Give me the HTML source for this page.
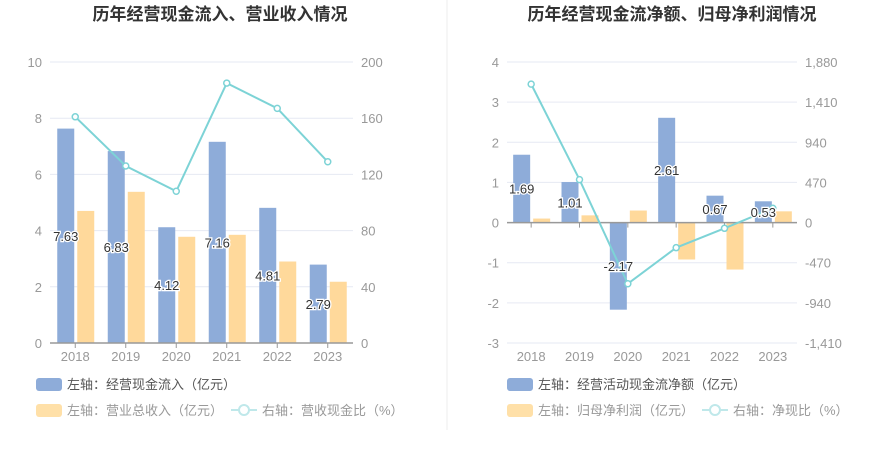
<!DOCTYPE html>
<html><head><meta charset="utf-8"><style>
body{margin:0;background:#fff;font-family:"Liberation Sans","Noto Sans CJK SC",sans-serif;}
svg text{font-family:"Liberation Sans","Noto Sans CJK SC",sans-serif;}
</style></head><body>
<svg id="c" width="893" height="458" xmlns="http://www.w3.org/2000/svg">
<line x1="447" y1="0" x2="447" y2="430" stroke="#eeeeee"/>
<text x="220" y="20" text-anchor="middle" font-size="17" font-weight="bold" fill="#333">历年经营现金流入、营业收入情况</text>
<text x="672" y="20" text-anchor="middle" font-size="17" font-weight="bold" fill="#333">历年经营现金流净额、归母净利润情况</text>
<g id="L"></g><g id="R"></g>
<g>
<rect x="36" y="378" width="26" height="13" rx="3" fill="#8eacd9"/>
<text x="67" y="389" font-size="13" fill="#555">左轴：经营现金流入（亿元）</text>
<rect x="36" y="404" width="26" height="13" rx="3" fill="#ffe0a8"/>
<text x="67" y="415" font-size="13" fill="#999">左轴：营业总收入（亿元）</text>
<line x1="231" y1="410" x2="257" y2="410" stroke="#bfe8ea" stroke-width="2"/><circle cx="244" cy="410" r="5" fill="#fff" stroke="#bfe8ea" stroke-width="2"/>
<text x="262" y="415" font-size="13" fill="#999">右轴：营收现金比（%）</text>
</g>
<g>
<rect x="507" y="378" width="26" height="13" rx="3" fill="#8eacd9"/>
<text x="538" y="389" font-size="13" fill="#555">左轴：经营活动现金流净额（亿元）</text>
<rect x="507" y="404" width="26" height="13" rx="3" fill="#ffe0a8"/>
<text x="538" y="415" font-size="13" fill="#999">左轴：归母净利润（亿元）</text>
<line x1="702" y1="410" x2="728" y2="410" stroke="#bfe8ea" stroke-width="2"/><circle cx="715" cy="410" r="5" fill="#fff" stroke="#bfe8ea" stroke-width="2"/>
<text x="733" y="415" font-size="13" fill="#999">右轴：净现比（%）</text>
</g>
</svg>
<script>
const years=["2018","2019","2020","2021","2022","2023"];
const inflow=[7.63,6.83,4.12,7.16,4.81,2.79];
const revenue=[4.7,5.38,3.78,3.85,2.9,2.18];
const cashRatio=[161,126,108,185,167,129];
const leftTicksL=[0,2,4,6,8,10];
const rightTicksL=[0,40,80,120,160,200];
const netCash=[1.69,1.01,-2.17,2.61,0.67,0.53];
const netProfit=[0.1,0.18,0.3,-0.92,-1.17,0.28];
const netRatio=[1621,503,-716,-294,-67,168];
const leftTicksR=[-3,-2,-1,0,1,2,3,4];
const rightTicksR=[-1410,-940,-470,0,470,940,1410,1880];
const NS="http://www.w3.org/2000/svg";
function mk(p,t,a){const e=document.createElementNS(NS,t);for(const k in a)e.setAttribute(k,a[k]);p.appendChild(e);return e;}
function fmt(v){return v.toLocaleString("en-US");}
function draw(g,o){
  const bw=(o.x1-o.x0)/years.length;
  const xc=i=>o.x0+bw*(i+0.5);
  const yl=v=>o.yb+(v-o.lmin)/(o.lmax-o.lmin)*(o.yt-o.yb);
  const yr=v=>o.yb+(v-o.rmin)/(o.rmax-o.rmin)*(o.yt-o.yb);
  o.lt.forEach((v,i)=>{const y=yl(v);
    const gl=mk(g,"line",{x1:o.x0,x2:o.x1,y1:y,y2:y,stroke:"#e6e9f3"});
    
    
    const t=mk(g,"text",{x:o.x0-8,y:y+5,"text-anchor":"end","font-size":"13",fill:"#999"});t.textContent=fmt(v);
    
    
  });
  o.rt.forEach(v=>{const y=yr(v);
    const t=mk(g,"text",{x:o.x1+8,y:y+5,"font-size":"13",fill:"#999"});t.textContent=fmt(v);
    
    
  });
  const y0=yl(0);
  years.forEach((yy,i)=>{
    const c=xc(i);
    const v1=o.a[i],v2=o.b[i];
    const b1=mk(g,"rect",{x:c-18,y:Math.min(yl(v1),y0),width:17,height:Math.abs(yl(v1)-y0),fill:"#8eacd9"});
    
    
    const b2=mk(g,"rect",{x:c+2,y:Math.min(yl(v2),y0),width:17,height:Math.abs(yl(v2)-y0),fill:"#ffd99b"});
    
    
  });
  const ax=mk(g,"line",{x1:o.x0,x2:o.x1,y1:y0,y2:y0,stroke:"#999",'stroke-width':1.5});
  
  
  years.forEach((yy,i)=>{const c=xc(i);
    mk(g,"line",{x1:c,x2:c,y1:y0,y2:y0+5,stroke:"#999"});
    const t=mk(g,"text",{x:c,y:o.yb+18,"text-anchor":"middle","font-size":"13",fill:"#999"});t.textContent=yy;
    
    
  });
  const pts=o.l.map((v,i)=>xc(i)+","+yr(v)).join(" ");
  const pl=mk(g,"polyline",{points:pts,fill:"none",stroke:"#7dd3d6","stroke-width":2});
  
  
  o.l.forEach((v,i)=>{const p=mk(g,"circle",{cx:xc(i),cy:yr(v),r:3,fill:"#fff",stroke:"#7dd3d6","stroke-width":1.5});
    
    
  });
  years.forEach((yy,i)=>{const v=o.a[i];const c=xc(i)-9.5;
    const ly=v>=0?(yl(v)+y0)/2+5:(yl(v)+y0)/2+5;
    const t=mk(g,"text",{x:c,y:ly,"text-anchor":"middle","font-size":"13",fill:"#333",stroke:"#fff","stroke-width":2.5,"paint-order":"stroke"});t.textContent=v.toFixed(2);
    
    
  });
}
draw(document.getElementById("L"),{x0:50,x1:353,yt:62,yb:343,lmin:0,lmax:10,rmin:0,rmax:200,lt:leftTicksL,rt:rightTicksL,a:inflow,b:revenue,l:cashRatio,an:"inflow",bn:"revenue",ln:"cash-ratio"});
draw(document.getElementById("R"),{x0:507,x1:797,yt:62,yb:343,lmin:-3,lmax:4,rmin:-1410,rmax:1880,lt:leftTicksR,rt:rightTicksR,a:netCash,b:netProfit,l:netRatio,an:"net-cash",bn:"net-profit",ln:"net-ratio"});
</script>
</body></html>
